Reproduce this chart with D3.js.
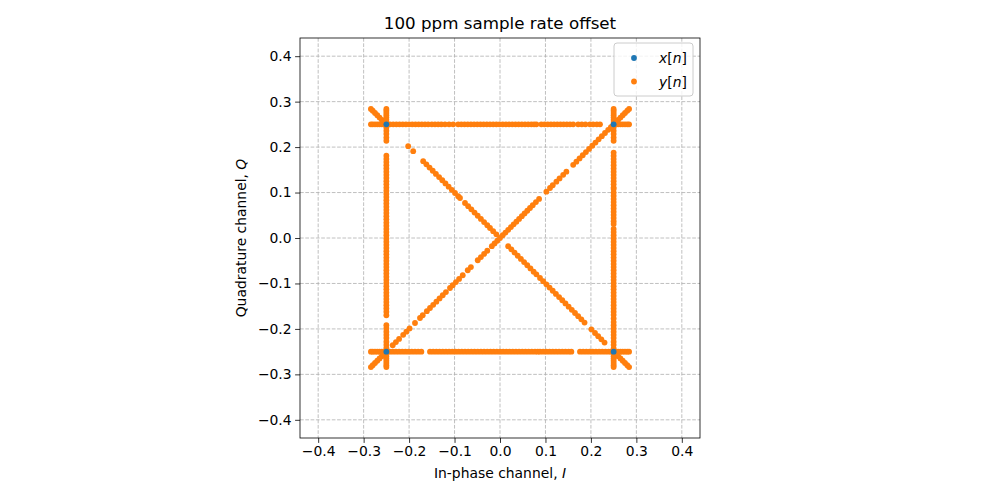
<!DOCTYPE html>
<html>
<head>
<meta charset="utf-8">
<script src="https://cdn.jsdelivr.net/npm/d3@7"></script>
<style>
  body { margin: 0; background: #fff; }
  svg { display: block; font-family: "DejaVu Sans", sans-serif; }
</style>
</head>
<body>
<svg id="chart" width="1000" height="500"></svg>
<script>
// ---- data ----
const titleText = "100 ppm sample rate offset";
const tickValues = [-0.4, -0.3, -0.2, -0.1, 0.0, 0.1, 0.2, 0.3, 0.4];
const axisDomain = [-0.44, 0.44];

// transmitted symbols x[n]
const symbolI = [-0.25, 0.25, -0.25, 0.25];
const symbolQ = [0.25, 0.25, -0.25, -0.25];

// received samples y[n]
const topEdgeQ = 0.25;
const topEdgeI = [-0.242,-0.235,-0.228,-0.221,-0.214,-0.207,-0.200,-0.193,-0.186,-0.179,-0.172,-0.165,-0.158,-0.150,-0.143,
  -0.136,-0.129,-0.121,-0.112,-0.103,
  -0.092,-0.085,-0.078,-0.071,-0.064,-0.057,-0.050,-0.043,-0.036,-0.029,-0.022,-0.015,-0.008,-0.001,0.006,0.013,0.020,0.027,0.034,0.041,0.048,0.055,0.062,0.069,0.075,0.080,
  0.091,0.098,0.105,0.112,0.119,0.126,0.133,0.140,0.147,0.154,0.161,
  0.172,0.180,0.188,0.198,0.205,0.213,0.220];
const bottomEdgeQ = -0.25;
const bottomEdgeI = [-0.243,-0.236,-0.229,-0.222,-0.215,-0.208,-0.201,-0.194,-0.187,-0.180,-0.173,
  -0.154,-0.147,-0.140,-0.133,-0.126,-0.119,-0.112,-0.105,-0.098,-0.091,-0.084,-0.077,-0.070,-0.063,-0.056,-0.049,-0.042,-0.035,-0.028,-0.021,-0.014,-0.007,0.000,0.007,0.014,0.021,0.028,0.035,0.042,0.049,0.056,0.063,0.070,0.077,0.083,0.088,
  0.095,0.102,0.109,0.116,0.123,0.130,0.137,0.144,0.151,0.157,
  0.176,0.183,0.190,0.197,0.204,0.211,0.218,0.225,0.232,0.239,0.245];
const leftEdgeI = -0.25;
const leftEdgeQ = [0.243,0.236,0.229,0.221,0.214,
  0.181,0.174,0.167,0.160,0.153,0.146,0.139,0.132,0.125,0.118,0.111,0.104,0.097,0.090,0.083,0.076,0.069,0.062,0.055,0.048,0.041,0.034,0.027,0.020,0.013,0.006,-0.001,-0.008,-0.015,-0.022,-0.029,-0.036,-0.043,-0.050,-0.057,-0.064,-0.071,-0.078,-0.085,-0.092,-0.099,-0.106,-0.113,-0.120,-0.127,-0.134,-0.141,-0.148,-0.155,-0.162,-0.170,
  -0.192,-0.199,-0.206,-0.213,-0.220,-0.228,-0.235,-0.242];
const rightEdgeI = 0.25;
const rightEdgeQ = [0.243,0.236,0.229,0.221,0.214,
  0.188,0.181,0.174,0.167,0.160,0.153,0.146,0.139,0.132,0.125,0.118,0.111,0.108,
  0.100,0.093,0.086,0.079,0.072,0.065,0.058,0.051,0.044,0.037,0.031,
  0.020,0.013,0.006,-0.001,-0.008,-0.015,-0.022,-0.029,-0.036,-0.043,-0.050,-0.057,-0.064,-0.071,-0.078,-0.085,-0.092,-0.099,-0.106,-0.113,-0.120,-0.127,-0.134,-0.141,-0.148,-0.155,-0.162,-0.169,-0.177,
  -0.185,-0.192,-0.199,-0.206,-0.213,-0.220,-0.228,-0.235,-0.243];
// points on I = Q
const diagonalI = [-0.236,-0.229,-0.222,-0.213,-0.206,-0.199,-0.187,-0.176,-0.170,-0.161,-0.154,-0.147,-0.140,-0.133,-0.126,-0.119,-0.110,-0.104,-0.097,-0.090,-0.082,-0.071,-0.064,-0.049,-0.042,-0.035,-0.028,-0.018,-0.012,-0.006,0.000,0.006,0.012,0.018,0.024,0.030,0.036,0.042,0.048,0.054,0.060,0.066,0.072,0.079,0.086,0.102,0.110,0.116,0.124,0.131,0.139,0.146,0.161,0.168,0.175,0.182,0.189,0.196,0.203,0.210,0.217,0.224,0.231,0.238,0.244];
// points on Q = -I
const antiDiagonalI = [-0.202,-0.191,-0.169,-0.162,-0.155,-0.148,-0.141,-0.134,-0.127,-0.120,-0.113,-0.106,-0.099,-0.092,-0.088,-0.077,-0.070,-0.063,-0.056,-0.049,-0.042,-0.035,-0.028,-0.022,-0.015,-0.008,0.018,0.025,0.032,0.039,0.046,0.053,0.060,0.067,0.074,0.080,0.088,0.095,0.102,0.109,0.116,0.123,0.130,0.137,0.144,0.151,0.158,0.165,0.172,0.179,0.186,0.201,0.209,0.216,0.223,0.230];
// outward spokes at each corner (offsets from the symbol)
const spokeOffsets = [0.000,0.005,0.010,0.015,0.020,0.025,0.030,0.034];

const colorX = "#1f77b4";
const colorY = "#ff7f0e";

// ---- build y[n] point list ----
const yPts = [];
topEdgeI.forEach(v => yPts.push([v, topEdgeQ]));
bottomEdgeI.forEach(v => yPts.push([v, bottomEdgeQ]));
leftEdgeQ.forEach(v => yPts.push([leftEdgeI, v]));
rightEdgeQ.forEach(v => yPts.push([rightEdgeI, v]));
diagonalI.forEach(v => yPts.push([v, v]));
antiDiagonalI.forEach(v => yPts.push([v, -v]));
symbolI.forEach((cI, k) => {
  const cQ = symbolQ[k];
  const sI = Math.sign(cI), sQ = Math.sign(cQ);
  spokeOffsets.forEach(d => {
    yPts.push([cI + sI * d, cQ]);
    yPts.push([cI, cQ + sQ * d]);
    yPts.push([cI + sI * d, cQ + sQ * d]);
  });
});
const xPts = symbolI.map((v, k) => [v, symbolQ[k]]);

// ---- drawing ----
const svg = d3.select("#chart");
const L = 300, R = 700, T = 38, B = 438;
const x = d3.scaleLinear().domain(axisDomain).range([L, R]);
const y = d3.scaleLinear().domain(axisDomain).range([B, T]);
const fmt = v => d3.format(".1f")(v).replace("-", "\u2212");
const dotR = 2.9;

// grid
const grid = svg.append("g");
grid.selectAll("line.gx").data(tickValues).enter().append("line")
  .attr("x1", d => x(d)).attr("x2", d => x(d)).attr("y1", T).attr("y2", B)
  .attr("stroke", "#b0b0b0").attr("stroke-width", 0.8).attr("stroke-dasharray", "3.7,1.6");
grid.selectAll("line.gy").data(tickValues).enter().append("line")
  .attr("y1", d => y(d)).attr("y2", d => y(d)).attr("x1", L).attr("x2", R)
  .attr("stroke", "#b0b0b0").attr("stroke-width", 0.8).attr("stroke-dasharray", "3.7,1.6");

// points
const plot = svg.append("g");
plot.selectAll("circle.y").data(yPts).enter().append("circle")
  .attr("cx", d => x(d[0])).attr("cy", d => y(d[1])).attr("r", dotR).attr("fill", colorY);
plot.selectAll("circle.x").data(xPts).enter().append("circle")
  .attr("cx", d => x(d[0])).attr("cy", d => y(d[1])).attr("r", dotR).attr("fill", colorX);

// axes
const xAxis = d3.axisBottom(x).tickValues(tickValues).tickFormat(fmt).tickSize(4.9).tickPadding(3.5);
const yAxis = d3.axisLeft(y).tickValues(tickValues).tickFormat(fmt).tickSize(4.9).tickPadding(3.5);
const gx = svg.append("g").attr("transform", `translate(0,${B})`).call(xAxis);
const gy = svg.append("g").attr("transform", `translate(${L},0)`).call(yAxis);
[gx, gy].forEach(g => {
  g.select(".domain").remove();
  g.selectAll(".tick line").attr("stroke", "#000").attr("stroke-width", 0.8);
  g.selectAll(".tick text").attr("font-size", 13.9).attr("fill", "#000").attr("font-family", "DejaVu Sans");
});

// frame
svg.append("rect").attr("x", L).attr("y", T).attr("width", R - L).attr("height", B - T)
  .attr("fill", "none").attr("stroke", "#000").attr("stroke-width", 0.8);

// title and labels
svg.append("text").attr("x", (L + R) / 2).attr("y", 29).attr("text-anchor", "middle")
  .attr("font-size", 16.7).text(titleText);
const xl = svg.append("text").attr("x", (L + R) / 2).attr("y", 478).attr("text-anchor", "middle").attr("font-size", 13.9);
xl.append("tspan").text("In-phase channel, ");
xl.append("tspan").attr("font-style", "italic").text("I");
const yl = svg.append("text").attr("transform", `translate(246,${(T + B) / 2}) rotate(-90)`)
  .attr("text-anchor", "middle").attr("font-size", 13.9);
yl.append("tspan").text("Quadrature channel, ");
yl.append("tspan").attr("font-style", "italic").text("Q");

// legend
const lg = svg.append("g");
lg.append("rect").attr("x", 614).attr("y", 43).attr("width", 79).attr("height", 53).attr("rx", 3)
  .attr("fill", "#fff").attr("fill-opacity", 0.8).attr("stroke", "#cccccc").attr("stroke-width", 1);
const legendItems = [
  { color: colorX, v: "x" },
  { color: colorY, v: "y" }
];
legendItems.forEach((it, i) => {
  const cy = 58 + i * 23.5;
  lg.append("circle").attr("cx", 634).attr("cy", cy).attr("r", dotR).attr("fill", it.color);
  const t = lg.append("text").attr("x", 659).attr("y", cy + 5).attr("font-size", 13.9);
  t.append("tspan").attr("font-style", "italic").text(it.v);
  t.append("tspan").text("[");
  t.append("tspan").attr("font-style", "italic").text("n");
  t.append("tspan").text("]");
});
</script>
</body>
</html>
